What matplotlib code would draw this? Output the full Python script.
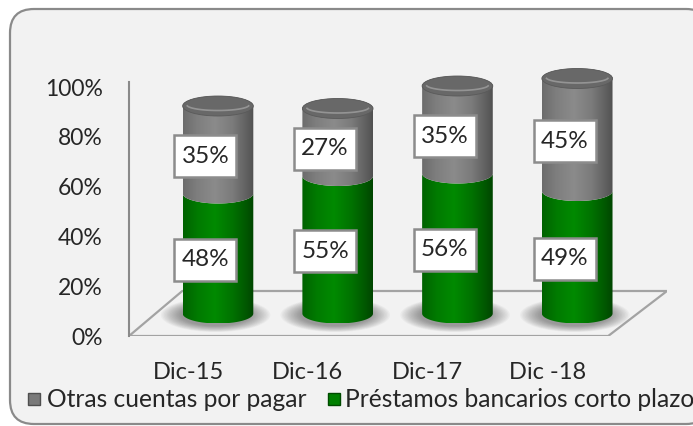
"""
Stacked 3D-style cylinder chart: short-term liabilities composition.
"""

import numpy as np
import matplotlib
matplotlib.use('Agg')
import matplotlib.pyplot as plt
from matplotlib.patches import Polygon, Ellipse, Rectangle, FancyBboxPatch
from matplotlib.colors import LinearSegmentedColormap
from matplotlib.transforms import IdentityTransform

# ── data ──────────────────────────────────────────────────────────────
categories = ['Dic-15', 'Dic-16', 'Dic-17', 'Dic -18']
prestamos = [48, 55, 56, 49]      # green, bottom
otras = [35, 27, 35, 45]          # grey, top
yticks = [0, 20, 40, 60, 80, 100]
series_names = ['Otras cuentas por pagar', 'Préstamos bancarios corto plazo']

plt.rcParams['font.family'] = ['Lato', 'DejaVu Sans']
TXT = '#262626'

W, H = 693, 427
fig = plt.figure(figsize=(W / 100, H / 100), dpi=100)
fig.patch.set_facecolor('white')

# rounded chart frame (pixel coords), behind everything
frame = FancyBboxPatch((10, 2), 700, 415,
                       boxstyle='round,pad=0,rounding_size=24',
                       transform=IdentityTransform(),
                       facecolor='#f2f2f2', edgecolor='#8a8a8a', lw=1.6,
                       zorder=-10)
fig.add_artist(frame)

ax = fig.add_axes([129 / W, 90 / H, 538 / W, 300 / H])
ax.patch.set_alpha(0)

# geometry (in data units: categories on x, percent on y)
w = 0.295          # cylinder half width
b = 4.0            # ellipse half height
dx, dy = 0.25, 9   # depth shift of cylinders from the front plane

grey_cmap = LinearSegmentedColormap.from_list('g', [
    (0, '#6c6c6c'), (0.2, '#7e7e7e'), (0.45, '#8b8b8b'),
    (0.7, '#7b7b7b'), (0.9, '#606060'), (1, '#515151')])
green_cmap = LinearSegmentedColormap.from_list('v', [
    (0, '#006200'), (0.2, '#007a00'), (0.45, '#008a00'),
    (0.7, '#007200'), (0.9, '#005600'), (1, '#004500')])
grad = np.linspace(0, 1, 256).reshape(1, -1)


def segment(xc, y0, y1, cmap, top=False, z=3):
    t_bot = np.linspace(np.pi, 2 * np.pi, 80)
    pts = [np.column_stack([xc + w * np.cos(t_bot), y0 + b * np.sin(t_bot)])]
    t_top = np.linspace(0, np.pi, 80) if top else np.linspace(2 * np.pi, np.pi, 80)
    pts.append(np.column_stack([xc + w * np.cos(t_top), y1 + b * np.sin(t_top)]))
    poly = Polygon(np.vstack(pts), closed=True, facecolor='none',
                   edgecolor='none', zorder=z)
    ax.add_patch(poly)
    im = ax.imshow(grad, extent=[xc - w, xc + w, y0 - b, y1 + b], cmap=cmap,
                   aspect='auto', interpolation='bilinear', zorder=z)
    im.set_clip_path(poly)


# floor
floor = Polygon([(-0.493, 0), (3.509, 0), (4.0, 18), (-0.048, 18)],
                closed=True, facecolor='#f2f2f2', edgecolor='#a3a3a3',
                lw=1.6, zorder=1)
ax.add_patch(floor)

for i, (p, o) in enumerate(zip(prestamos, otras)):
    xc = i + dx
    base = dy
    # soft shadow under the cylinder
    for k in np.linspace(1.55, 1.0, 14):
        ax.add_patch(Ellipse((xc - 0.02, base - 0.6), 2 * w * k, 2 * b * k * 1.1,
                             facecolor='#202020', edgecolor='none', alpha=0.035,
                             zorder=2))
    segment(xc, base, base + p, green_cmap, z=3)
    segment(xc, base + p, base + p + o, grey_cmap, top=True, z=4)
    top = base + p + o
    ax.add_patch(Ellipse((xc, top), 2 * w, 2 * b, facecolor='#686868',
                         edgecolor='#5a5a5a', lw=0.6, zorder=5))
    t = np.linspace(np.pi * 1.05, np.pi * 1.95, 50)
    ax.plot(xc + 0.88 * w * np.cos(t), top + 0.55 * b * np.sin(t) + 0.4,
            color='#a0a0a0', lw=1.2, alpha=0.8, zorder=6)

    # data labels
    for mid, val in [(p / 2, p), (p + o / 2, o)]:
        cx, cy = i + 0.145, mid + 6.5
        ax.add_patch(Rectangle((cx - 0.259, cy - 8.4), 0.518, 16.8,
                               facecolor='white', edgecolor='#8c8c8c',
                               lw=1.8, zorder=10))
        ax.text(cx, cy + 0.3, f'{val}%', ha='center', va='center',
                fontsize=17.5, color=TXT, zorder=11)

# axes styling
for s in ['top', 'right', 'bottom']:
    ax.spines[s].set_visible(False)
ax.spines['left'].set_color('#8a8a8a')
ax.spines['left'].set_linewidth(1.5)
ax.spines['left'].set_bounds(0, 101.6)
ax.set_yticks(yticks)
ax.set_yticklabels([f'{v}%' for v in yticks])
ax.set_xticks(range(len(categories)))
ax.set_xticklabels(categories)
ax.tick_params(axis='y', length=0, pad=19, labelsize=16.5, labelcolor=TXT)
ax.tick_params(axis='x', length=0, pad=18, labelsize=17, labelcolor=TXT)
ax.set_xlim(-0.493, 4.0)
ax.set_ylim(0, 120)

# legend
ly = (H - 400) / H
legend_items = [(28, 47, '#7a7a7a', '#4f4f4f'), (328, 345, '#008000', '#004a00')]
for (mx, tx, fc, ec), name in zip(legend_items, series_names):
    fig.add_artist(Rectangle((mx / W, (H - 406) / H), 12 / W, 12 / H,
                             transform=fig.transFigure, facecolor=fc,
                             edgecolor=ec, lw=1.0))
    fig.text(tx / W, ly, name, ha='left', va='center', fontsize=17.7, color=TXT)

fig.savefig('out.png', dpi=100, facecolor='white')
